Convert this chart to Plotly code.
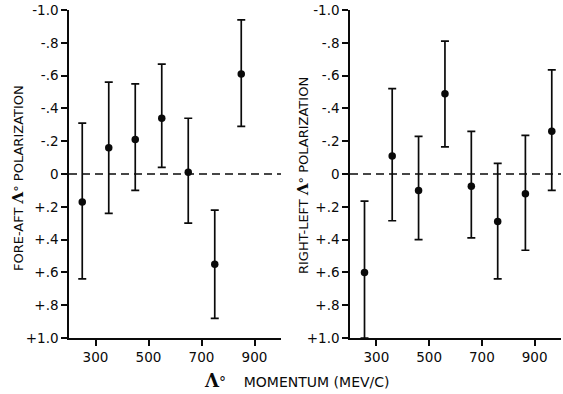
import plotly.graph_objects as go

# ---- data ----
fa_momentum = [250, 350, 450, 550, 650, 750, 850]
fa_polarization = [0.17, -0.16, -0.21, -0.34, -0.01, 0.55, -0.61]
fa_err_up = [0.48, 0.40, 0.34, 0.33, 0.33, 0.33, 0.33]     # toward negative values (up on chart)
fa_err_down = [0.47, 0.40, 0.31, 0.30, 0.31, 0.33, 0.32]   # toward positive values (down on chart)

rl_momentum = [255, 360, 460, 560, 660, 760, 865, 965]
rl_polarization = [0.60, -0.11, 0.10, -0.49, 0.075, 0.29, 0.12, -0.26]
rl_err_up = [0.435, 0.41, 0.33, 0.32, 0.335, 0.355, 0.355, 0.375]
rl_err_down = [0.40, 0.395, 0.30, 0.325, 0.315, 0.35, 0.345, 0.36]

x_ticks = [300, 500, 700, 900]
y_tickvals = [-1.0, -0.8, -0.6, -0.4, -0.2, 0.0, 0.2, 0.4, 0.6, 0.8, 1.0]
y_ticktext = ["-1.0", "-.8", "-.6", "-.4", "-.2", "0", "+.2", "+.4", "+.6", "+.8", "+1.0"]

W, H = 563, 394
FONT = "DejaVu Sans"
INK = "#0a0a0a"

fig = go.Figure()


def add_panel(x, y, up, down, xa, ya):
    fig.add_trace(go.Scatter(
        x=x, y=y, mode="markers", xaxis=xa, yaxis=ya,
        marker=dict(size=7.5, color=INK),
        error_y=dict(type="data", symmetric=False, array=down, arrayminus=up,
                     color=INK, thickness=1.7, width=4),
        showlegend=False, hoverinfo="skip"))


add_panel(fa_momentum, fa_polarization, fa_err_up, fa_err_down, "x", "y")
add_panel(rl_momentum, rl_polarization, rl_err_up, rl_err_down, "x2", "y2")

ydom = [56 / H, 1 - 10 / H]
xdom1 = [69 / W, 281 / W]
xdom2 = [350 / W, 561 / W]

common_x = dict(range=[200, 1000], tickvals=x_ticks, showgrid=False, zeroline=False,
                showline=True, linewidth=1.5, linecolor=INK, ticks="outside",
                ticklen=6, tickwidth=1.5, tickcolor=INK, automargin=False,
                tickfont=dict(family=FONT, size=13.5, color=INK))
common_y = dict(range=[1.0, -1.0], tickvals=y_tickvals, ticktext=y_ticktext,
                showgrid=False, zeroline=False, showline=True, linewidth=1.5,
                linecolor=INK, ticks="outside", ticklen=6, tickwidth=1.5,
                tickcolor=INK, tickfont=dict(family=FONT, size=13.5, color=INK),
                domain=ydom, automargin=False)
mirror_x = dict(range=[200, 1000], tickvals=x_ticks, showgrid=False, zeroline=False,
                showline=True, linewidth=1.5, linecolor=INK, ticks="inside",
                ticklen=6, tickwidth=1.5, tickcolor=INK, showticklabels=False,
                side="top", automargin=False)
mirror_y = dict(range=[1.0, -1.0], tickvals=y_tickvals, showgrid=False, zeroline=False,
                showline=True, linewidth=1.5, linecolor=INK, ticks="inside",
                ticklen=6, tickwidth=1.5, tickcolor=INK, showticklabels=False,
                side="right", automargin=False)

fig.update_layout(
    width=W, height=H,
    margin=dict(l=0, r=0, t=0, b=0, autoexpand=False),
    paper_bgcolor="white", plot_bgcolor="white",
    xaxis=dict(domain=xdom1, anchor="y", **common_x),
    yaxis=dict(anchor="x", **common_y),
    xaxis2=dict(domain=xdom2, anchor="y2", **common_x),
    yaxis2=dict(anchor="x2", **common_y),
    xaxis3=dict(overlaying="x", anchor="y", **mirror_x),
    yaxis3=dict(overlaying="y", anchor="x", **mirror_y),
    xaxis4=dict(overlaying="x2", anchor="y2", **mirror_x),
    yaxis4=dict(overlaying="y2", anchor="x2", **mirror_y),
)

# dashed zero lines
for xr, yr in (("x domain", "y"), ("x2 domain", "y2")):
    fig.add_shape(type="line", xref=xr, yref=yr, x0=0, x1=1, y0=0, y1=0,
                  line=dict(color=INK, width=1.4, dash="8px,5px"), layer="below")

LAM = "<span style='font-family:DejaVu Serif;font-size:15px'><b>Λ</b></span>°"

fig.add_annotation(xref="paper", yref="paper", x=18 / W, y=1 - 178 / H,
                   xanchor="center", yanchor="middle",
                   text="FORE-AFT " + LAM + " POLARIZATION", textangle=-90,
                   showarrow=False, font=dict(family=FONT, size=13, color=INK))
fig.add_annotation(xref="paper", yref="paper", x=303 / W, y=1 - 176 / H,
                   xanchor="center", yanchor="middle",
                   text="RIGHT-LEFT " + LAM + " POLARIZATION", textangle=-90,
                   showarrow=False, font=dict(family=FONT, size=13, color=INK))
fig.add_annotation(xref="paper", yref="paper", x=297 / W, y=1 - 380 / H,
                   xanchor="center", yanchor="middle",
                   text="<span style='font-family:DejaVu Serif;font-size:18px'><b>Λ</b></span>°"
                        "&nbsp;&nbsp;&nbsp;&nbsp;MOMENTUM (MEV/C)",
                   showarrow=False, font=dict(family=FONT, size=14, color=INK))

fig.write_html("out.html",
               config={"displayModeBar": False},
               post_script="document.body.style.margin='0px';"
                           "document.body.style.overflow='hidden';")
